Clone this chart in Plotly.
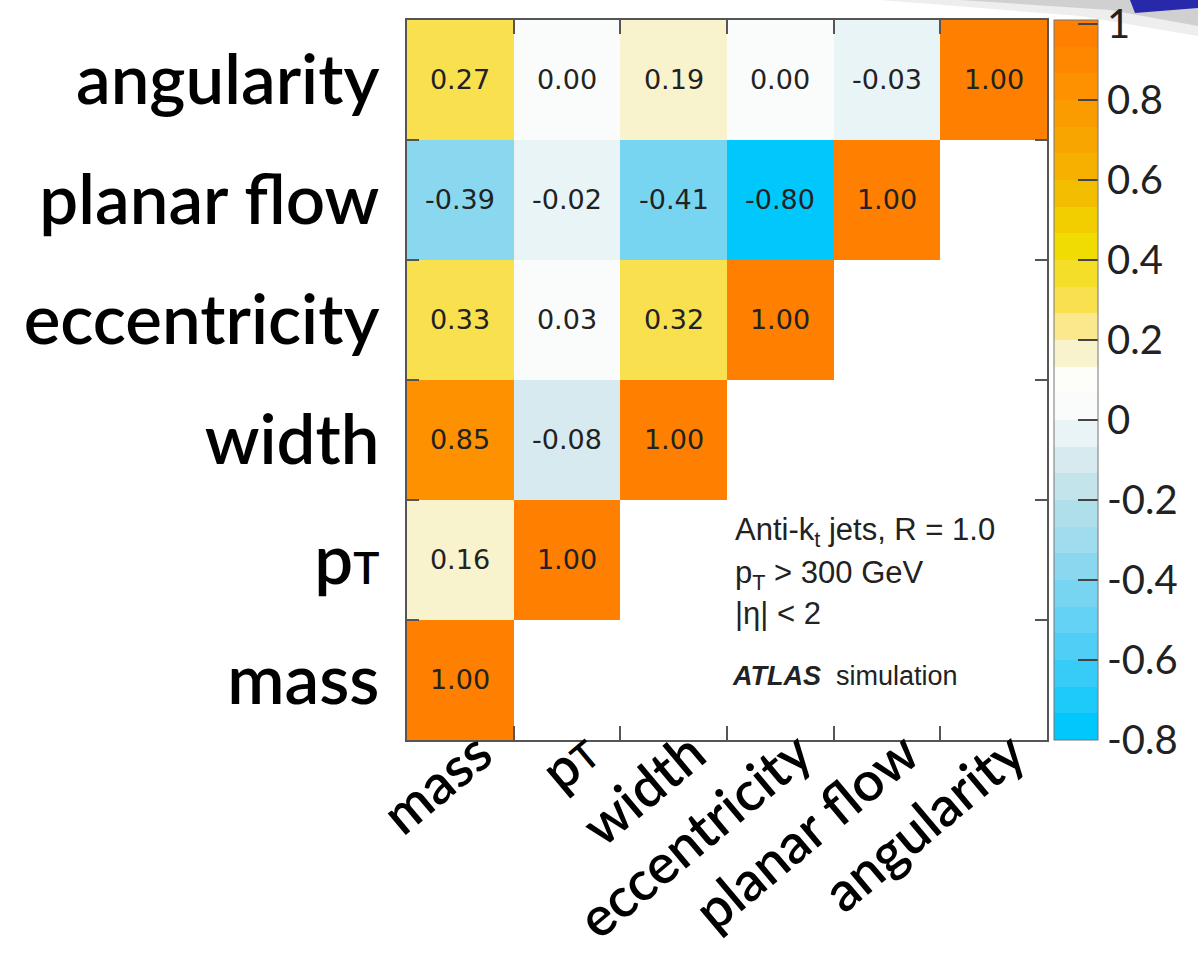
import plotly.graph_objects as go

# ---------------- data ----------------
variables = ["mass", "p<span style='font-size:44px'>T</span>", "width", "eccentricity", "planar flow", "angularity"]
x_labels = ["mass", "p<span style='font-size:38px'>T</span>", "width", "eccentricity", "planar flow", "angularity"]

# rows from bottom (mass) to top (angularity); None = empty cell
row_mass = [1.00, None, None, None, None, None]
row_pt = [0.16, 1.00, None, None, None, None]
row_width = [0.85, -0.08, 1.00, None, None, None]
row_eccentricity = [0.33, 0.03, 0.32, 1.00, None, None]
row_planarflow = [-0.39, -0.02, -0.41, -0.80, 1.00, None]
row_angularity = [0.27, 0.00, 0.19, 0.00, -0.03, 1.00]

z = [row_mass, row_pt, row_width, row_eccentricity, row_planarflow, row_angularity]
cell_text = [["" if v is None else f"{v:.2f}" for v in row] for row in z]

cbar_ticks = [0.99, 0.8, 0.6, 0.4, 0.2, 0, -0.2, -0.4, -0.6, -0.8]
cbar_ticktext = ["1", "0.8", "0.6", "0.4", "0.2", "0", "-0.2", "-0.4", "-0.6", "-0.8"]

# ---------------- stepped palette (27 bands, bottom -> top) ----------------
band_colors = [
    "rgb(0,200,252)", "rgb(30,202,250)", "rgb(55,204,248)", "rgb(80,206,246)",
    "rgb(100,210,244)", "rgb(120,213,242)", "rgb(138,216,240)", "rgb(158,220,238)",
    "rgb(176,223,236)", "rgb(196,228,236)", "rgb(215,234,240)", "rgb(233,244,246)",
    "rgb(249,252,250)", "rgb(253,253,250)", "rgb(248,243,205)", "rgb(251,232,140)",
    "rgb(249,224,78)", "rgb(245,222,40)", "rgb(240,220,0)", "rgb(242,205,0)",
    "rgb(244,190,0)", "rgb(246,176,0)", "rgb(248,165,0)", "rgb(250,155,0)",
    "rgb(253,145,0)", "rgb(255,135,0)", "rgb(255,127,0)",
]
n = len(band_colors)
colorscale = []
for i, c in enumerate(band_colors):
    colorscale.append([i / n, c])
    colorscale.append([(i + 1) / n, c])

LABEL_FONT = "Lato"

fig = go.Figure()
fig.add_trace(go.Heatmap(
    x=list(range(6)), y=list(range(6)), z=z,
    text=cell_text, texttemplate="%{text}",
    textfont=dict(family="DejaVu Sans", size=27, color="#222222"),
    colorscale=colorscale, zmin=-0.8, zmax=1.0,
    hoverongaps=False,
    colorbar=dict(
        thickness=44, len=1.0, lenmode="fraction", y=0.5, yanchor="middle",
        x=1.011, xanchor="left", xpad=0, ypad=0,
        outlinewidth=1, outlinecolor="#777777",
        tickmode="array", tickvals=cbar_ticks, ticktext=cbar_ticktext,
        ticks="inside", ticklen=20, tickcolor="#444444", tickwidth=1.5,
        ticklabeloverflow="allow",
        tickfont=dict(family=LABEL_FONT, size=40, color="#222222"),
    ),
))

tick_bounds = [0.5, 1.5, 2.5, 3.5, 4.5]

fig.update_xaxes(
    range=[-0.5, 5.5], tickmode="array", tickvals=list(range(6)), ticktext=x_labels,
    tickangle=-40, tickfont=dict(family=LABEL_FONT, size=55, color="black", weight=600),
    ticks="", showgrid=False, zeroline=False, automargin=False,
    showline=True, linecolor="#555555", linewidth=1.5, mirror="ticks",
    minor=dict(tickmode="array", tickvals=tick_bounds, ticks="inside", ticklen=14,
               tickcolor="#555555", tickwidth=1.5, showgrid=False),
    ticklabelshift=18, ticklabelstandoff=-42,
)
fig.update_yaxes(
    range=[-0.5, 5.5], tickmode="array", tickvals=list(range(6)), ticktext=variables,
    tickfont=dict(family=LABEL_FONT, size=69, color="black", weight=600),
    ticks="", showgrid=False, zeroline=False, automargin=False,
    showline=True, linecolor="#555555", linewidth=1.5, mirror="ticks",
    minor=dict(tickmode="array", tickvals=tick_bounds, ticks="inside", ticklen=12,
               tickcolor="#555555", tickwidth=1.5, showgrid=False),
    ticklabelstandoff=12,
)

NB = "\u00a0"
# info text
fig.add_annotation(x=0.509, y=0.289, xref="paper", yref="paper", xanchor="left", yanchor="middle",
                   text="Anti-k<sub>t</sub> jets, R = 1.0", showarrow=False,
                   font=dict(family="Liberation Sans", size=31, color="#222222"))
fig.add_annotation(x=0.509, y=0.229, xref="paper", yref="paper", xanchor="left", yanchor="middle",
                   text=f"p<sub>T</sub>{NB}>{NB}300 GeV", showarrow=False,
                   font=dict(family="Liberation Sans", size=31, color="#222222"))
fig.add_annotation(x=0.509, y=0.176, xref="paper", yref="paper", xanchor="left", yanchor="middle",
                   text=f"|η|{NB}<{NB}2", showarrow=False,
                   font=dict(family="Liberation Sans", size=31, color="#222222"))
fig.add_annotation(x=0.505, y=0.089, xref="paper", yref="paper", xanchor="left", yanchor="middle",
                   text=f"<b><i>ATLAS</i></b>{NB}{NB}simulation", showarrow=False,
                   font=dict(family="Liberation Sans", size=27, color="#222222"))

# slide decoration in the top-right corner (shadow + blue strip)
def px(xp, yp):
    return (xp - 407) / 640, (740 - yp) / 720

def poly(points):
    return "M " + " L ".join(f"{a},{b}" for a, b in points) + " Z"

fig.add_shape(type="path", xref="paper", yref="paper", layer="above",
              path=poly([px(880, 0), px(1198, 0), px(1198, 36), px(1080, 16)]),
              fillcolor="rgba(160,160,160,0.18)", line=dict(width=0))
fig.add_shape(type="path", xref="paper", yref="paper", layer="above",
              path=poly([px(960, 0), px(1198, 0), px(1198, 26), px(1110, 10)]),
              fillcolor="rgba(120,120,120,0.25)", line=dict(width=0))
fig.add_shape(type="path", xref="paper", yref="paper", layer="above",
              path=poly([px(1130, 0), px(1198, 0), px(1198, 8), px(1135, 13)]),
              fillcolor="rgb(40,40,170)", line=dict(width=0))

fig.update_layout(
    width=1198, height=958,
    margin=dict(l=407, r=151, t=20, b=218, autoexpand=False),
    plot_bgcolor="white", paper_bgcolor="white",
    showlegend=False,
)

fig.write_html("out.html")
